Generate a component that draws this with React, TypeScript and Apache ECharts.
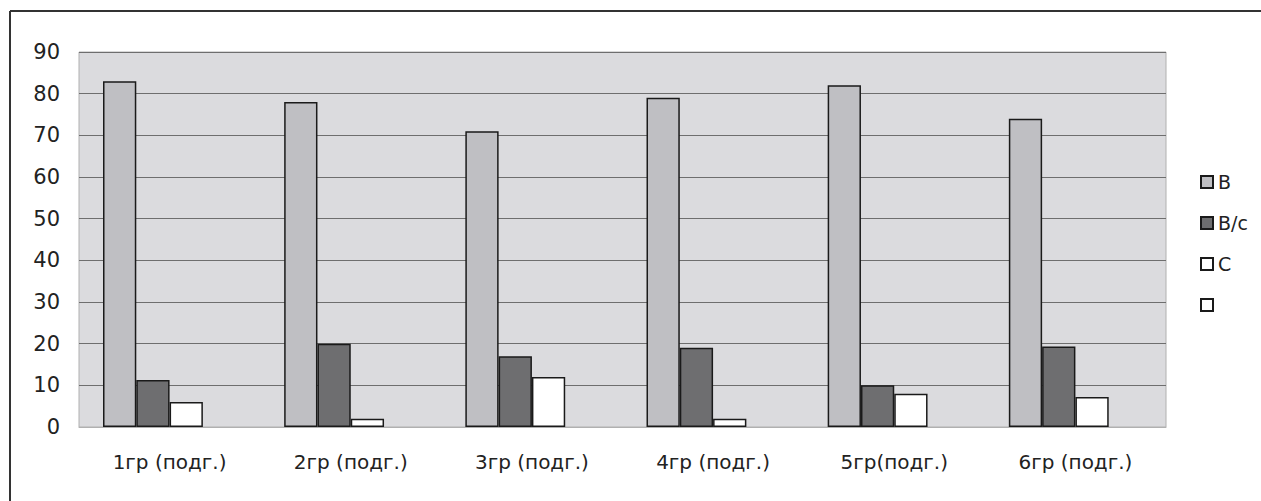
import React, { useEffect, useRef } from "react";
import * as echarts from "echarts";

const categories = ["1гр (подг.)", "2гр (подг.)", "3гр (подг.)", "4гр (подг.)", "5гр(подг.)", "6гр (подг.)"];
const seriesNames = ["В", "В/с", "С", " "];
const valuesB = [83, 78, 71, 79, 82, 74];
const valuesBc = [11.3, 20, 17, 19, 10, 19.3];
const valuesC = [6, 2, 12, 2, 8, 7.2];
const valuesEmpty = [null, null, null, null, null, null];
const yTicks = { min: 0, max: 90, interval: 10 };

const FONT = "'DejaVu Sans', 'Liberation Sans', Arial, sans-serif";

export default function App() {
  const ref = useRef<HTMLDivElement>(null);
  useEffect(() => {
    const chart = echarts.init(ref.current!, null, { renderer: "svg" });
    const colors = ["#bfbfc3", "#6e6e70", "#ffffff", "#ffffff"];
    const data = [valuesB, valuesBc, valuesC, valuesEmpty];
    chart.setOption({
      animation: false,
      backgroundColor: "#ffffff",
      textStyle: { fontFamily: FONT },
      grid: {
        left: 79,
        top: 52,
        right: 95,
        bottom: 74,
        show: true,
        backgroundColor: "#dbdbde",
        borderColor: "#b0b0b0",
        borderWidth: 1,
      },
      legend: {
        orient: "vertical",
        left: 1195,
        top: 167,
        itemWidth: 12,
        itemHeight: 12,
        itemGap: 21,
        icon: "rect",
        textStyle: { fontSize: 19, color: "#222", fontFamily: FONT, lineHeight: 20 },
        data: seriesNames,
      },
      xAxis: {
        type: "category",
        data: categories,
        axisLine: { show: true, lineStyle: { color: "#b0b0b0", width: 1 } },
        axisTick: { show: false },
        axisLabel: { fontSize: 20, color: "#222", margin: 25, fontFamily: FONT },
      },
      yAxis: {
        type: "value",
        min: yTicks.min,
        max: yTicks.max,
        interval: yTicks.interval,
        axisLine: { show: false },
        axisTick: { show: false },
        axisLabel: { fontSize: 21, color: "#222", margin: 19, fontFamily: FONT },
        splitLine: { show: true, lineStyle: { color: "#6e6e6e", width: 1 } },
      },
      series: seriesNames.map((name, i) => ({
        name,
        type: "bar",
        data: data[i],
        barGap: "0%",
        barCategoryGap: "26.5%",
        itemStyle: { color: colors[i], borderColor: "#1a1a1a", borderWidth: 1.5 },
      })),
      graphic: [
        { type: "line", shape: { x1: 10, y1: 11, x2: 1261, y2: 11 }, style: { stroke: "#333", lineWidth: 2 } },
        { type: "line", shape: { x1: 10, y1: 11, x2: 10, y2: 501 }, style: { stroke: "#333", lineWidth: 2 } },
      ],
    });
    return () => chart.dispose();
  }, []);
  return (
    <div
      ref={ref}
      style={{ position: "fixed", left: 0, top: 0, width: 1261, height: 501 }}
    />
  );
}
